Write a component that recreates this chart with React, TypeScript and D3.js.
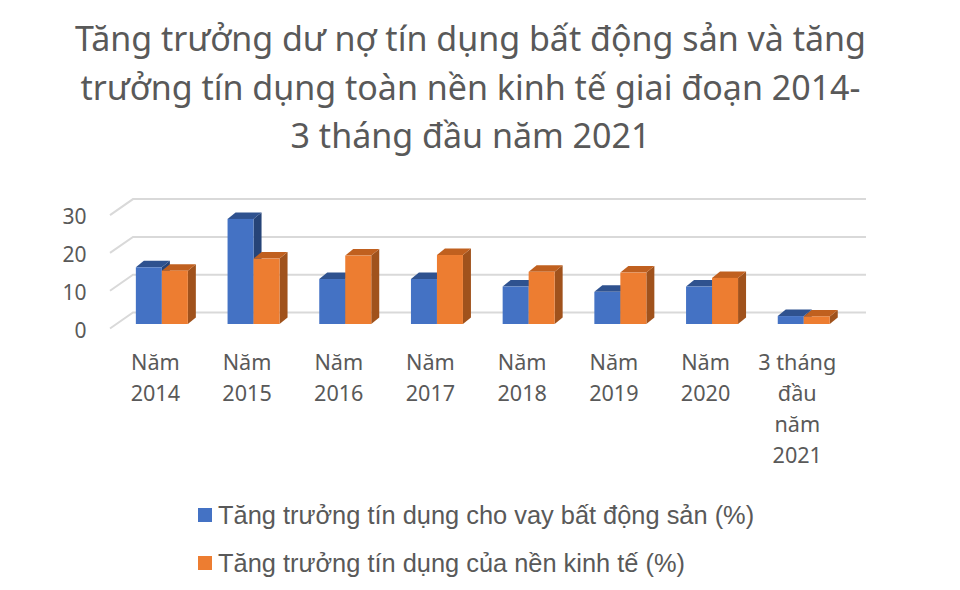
import * as d3 from 'd3';

const categories = [
  ['Năm', '2014'],
  ['Năm', '2015'],
  ['Năm', '2016'],
  ['Năm', '2017'],
  ['Năm', '2018'],
  ['Năm', '2019'],
  ['Năm', '2020'],
  ['3 tháng', 'đầu', 'năm', '2021'],
];
const realEstate = [15, 27.8, 11.9, 11.9, 9.9, 8.5, 9.9, 2.1];
const economy = [14.1, 17.3, 18.1, 18.25, 13.8, 13.6, 12.2, 2];
const yTicks = [0, 10, 20, 30];
const titleLines = [
  'Tăng trưởng dư nợ tín dụng bất động sản và tăng',
  'trưởng tín dụng toàn nền kinh tế giai đoạn 2014-',
  '3 tháng đầu năm 2021',
];
const seriesNames = [
  'Tăng trưởng tín dụng cho vay bất động sản (%)',
  'Tăng trưởng tín dụng của nền kinh tế (%)',
];

const colors = [
  { front: '#4472c4', top: '#2f528f', side: '#264478' },
  { front: '#ed7d31', top: '#c0601f', side: '#a0521c' },
];

const w = 960;
const h = 590;
const depthX = 8;
const depthY = 6.5;
const gridBack = 11.5;

export default function App() {
  const xScale = d3
    .scaleBand<number>()
    .domain(d3.range(categories.length))
    .range([116, 849.6])
    .paddingInner(0.433)
    .paddingOuter(0.2165);
  const barScale = d3
    .scaleBand<number>()
    .domain([0, 1])
    .range([0, xScale.bandwidth()]);
  const yScale = d3.scaleLinear().domain([0, 30]).range([324, 210.6]);

  const bar = (cat: number, s: number, value: number) => {
    const x0 = xScale(cat)! + barScale(s)!;
    const x1 = x0 + barScale.bandwidth();
    const y0 = yScale(0);
    const y1 = yScale(value);
    const top = d3.path();
    top.moveTo(x0, y1);
    top.lineTo(x0 + depthX, y1 - depthY);
    top.lineTo(x1 + depthX, y1 - depthY);
    top.lineTo(x1, y1);
    top.closePath();
    const side = d3.path();
    side.moveTo(x1, y1);
    side.lineTo(x1 + depthX, y1 - depthY);
    side.lineTo(x1 + depthX, y0 - depthY);
    side.lineTo(x1, y0);
    side.closePath();
    return (
      <g key={`${cat}-${s}`}>
        <path d={side.toString()} fill={colors[s].side} />
        <path d={top.toString()} fill={colors[s].top} />
        <rect x={x0} y={y1} width={x1 - x0} height={y0 - y1} fill={colors[s].front} />
      </g>
    );
  };

  return (
    <svg
      width={w}
      height={h}
      style={{ position: 'absolute', left: 0, top: 0, background: '#fff' }}
    >
      <g fontFamily="'Noto Sans'" fontSize={34} fill='#595959' textAnchor='middle'>
        {titleLines.map((line, i) => (
          <text key={i} x={470.5} y={51 + i * 48.5}>
            {line}
          </text>
        ))}
      </g>

      {yTicks.map((t) => {
        const y = yScale(t) - gridBack;
        return (
          <g key={t}>
            <path
              d={`M110,${y + 16}L133,${y}L866,${y}`}
              fill='none'
              stroke='#d9d9d9'
              strokeWidth={2}
            />
            <text
              x={86.5}
              y={y + 25}
              textAnchor='end'
              fontFamily="'Noto Sans'"
              fontSize={21}
              fill='#595959'
            >
              {t}
            </text>
          </g>
        );
      })}

      {categories.map((_, i) => (
        <g key={i}>
          {bar(i, 0, realEstate[i])}
          {bar(i, 1, economy[i])}
        </g>
      ))}

      {categories.map((lines, i) => (
        <text
          key={i}
          textAnchor='middle'
          fontFamily="'Noto Sans'"
          fontSize={21.6}
          fill='#595959'
        >
          {lines.map((line, j) => (
            <tspan key={j} x={xScale(i)! + xScale.bandwidth() / 2 - 6.5} y={370 + j * 31}>
              {line}
            </tspan>
          ))}
        </text>
      ))}

      {seriesNames.map((name, i) => (
        <g key={name}>
          <rect x={198} y={508 + i * 48} width={14} height={14} fill={colors[i].front} />
          <text
            x={218}
            y={524 + i * 48}
            fontFamily="'Liberation Sans'"
            fontSize={25.4}
            fill='#595959'
          >
            {name}
          </text>
        </g>
      ))}
    </svg>
  );
}
